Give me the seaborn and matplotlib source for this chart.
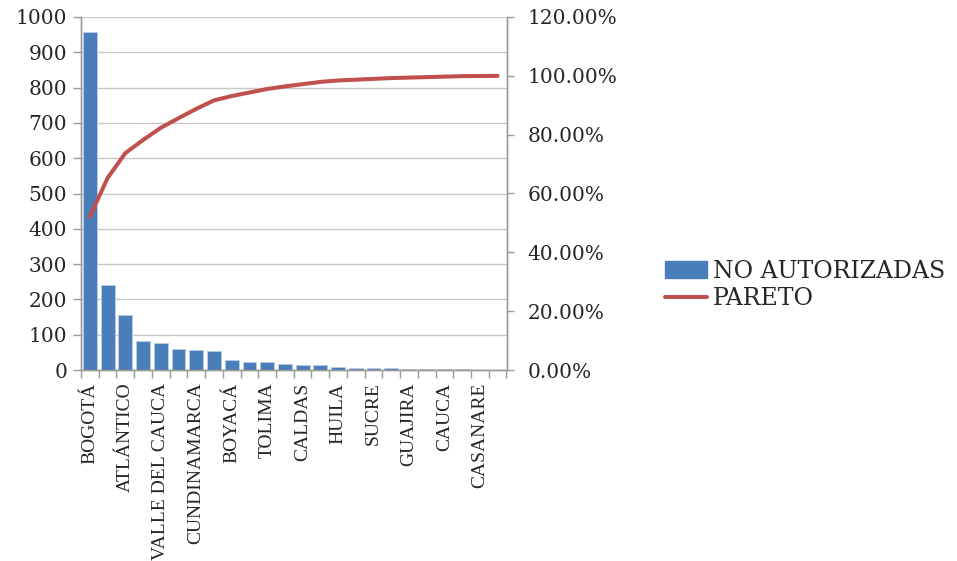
import matplotlib
matplotlib.use("Agg")
import matplotlib.pyplot as plt
import seaborn as sns
import numpy as np
import pandas as pd
from matplotlib.ticker import FuncFormatter, MultipleLocator
from matplotlib.font_manager import FontProperties
from matplotlib.patches import Patch
from matplotlib.lines import Line2D

departamentos = [
    "BOGOTÁ", "ANTIOQUIA", "ATLÁNTICO", "SANTANDER", "VALLE DEL CAUCA",
    "RISARALDA", "CUNDINAMARCA", "META", "BOYACÁ", "QUINDÍO", "TOLIMA",
    "NORTE DE SANTANDER", "CALDAS", "BOLÍVAR", "HUILA", "NARIÑO", "SUCRE",
    "CÓRDOBA", "GUAJIRA", "MAGDALENA", "CAUCA", "CESAR", "CASANARE", "CHOCÓ",
]
no_autorizadas = [957, 240, 155, 82, 76, 60, 58, 53, 27, 22, 22, 16,
                  14, 14, 9, 5, 5, 5, 3, 3, 3, 3, 1, 1]

df = pd.DataFrame({"departamento": departamentos, "no_autorizadas": no_autorizadas})
df["pareto"] = df["no_autorizadas"].cumsum() / df["no_autorizadas"].sum()
df["pos"] = np.arange(len(df))

sns.set_style("white")
num_font = FontProperties(family="DejaVu Serif", size=14.5)
cat_font = FontProperties(family="Liberation Serif", size=14)
leg_font = FontProperties(family="DejaVu Serif", size=17)

fig = plt.figure(figsize=(9.57, 5.61), dpi=100)
ax = fig.add_axes([81 / 957, 1 - 370 / 561, (506.5 - 81) / 957, (370 - 17) / 561])
ax2 = ax.twinx()

bar_color = "#4A7EBB"
line_color = "#C0504D"

sns.barplot(data=df, x="departamento", y="no_autorizadas", ax=ax,
            color=bar_color, saturation=1, width=0.78,
            edgecolor="#B9CDE5", linewidth=0.6)
sns.lineplot(data=df, x="pos", y="pareto", ax=ax2, color=line_color,
             linewidth=2.9, sort=False)

ax.set_xlim(-0.5, len(df) - 0.5)
ax.set_ylim(0, 1000)
ax2.set_ylim(0, 1.2)
for a in (ax, ax2):
    a.set_xlabel("")
    a.set_ylabel("")

# horizontal gridlines on the count axis
ax.yaxis.set_major_locator(MultipleLocator(100))
ax.grid(axis="y", color="#C8C8C8", linewidth=1.0)
ax.set_axisbelow(True)

grey = "#9A9A9A"
for a in (ax, ax2):
    for s in a.spines.values():
        s.set_color(grey)
        s.set_linewidth(1.0)
    a.spines["top"].set_visible(False)

ax.tick_params(axis="y", which="both", left=True, length=6, width=1,
               color=grey, pad=4)
for lab in ax.get_yticklabels():
    lab.set_fontproperties(num_font)

ax2.yaxis.set_major_locator(MultipleLocator(0.2))
ax2.yaxis.set_major_formatter(FuncFormatter(lambda v, p: f"{v * 100:.2f}%"))
ax2.tick_params(axis="y", right=True, length=5, width=1, color=grey, pad=10)
for lab in ax2.get_yticklabels():
    lab.set_fontproperties(num_font)

# category ticks at bar boundaries, labels on every other bar
ax.set_xticks(np.arange(-0.5, len(df), 1.0), minor=True)
ax.set_xticks(df["pos"])
ax.set_xticklabels([d if i % 2 == 0 else "" for i, d in enumerate(departamentos)],
                   rotation=90)
for lab in ax.get_xticklabels():
    lab.set_fontproperties(cat_font)
ax.tick_params(axis="x", which="major", length=0, pad=9)
ax.tick_params(axis="x", which="minor", bottom=True, length=6, width=1, color=grey)
ax2.tick_params(axis="x", length=0)

handles = [Patch(facecolor=bar_color, edgecolor=bar_color),
           Line2D([0], [0], color=line_color, linewidth=2.9)]
fig.legend(handles, ["NO AUTORIZADAS", "PARETO"], loc="center left",
           bbox_to_anchor=(653 / 957, 1 - 285 / 561), frameon=False,
           prop=leg_font, handlelength=1.8,
           handletextpad=0.25, labelspacing=0.2, borderpad=0)

fig.savefig("out.png", dpi=100)
